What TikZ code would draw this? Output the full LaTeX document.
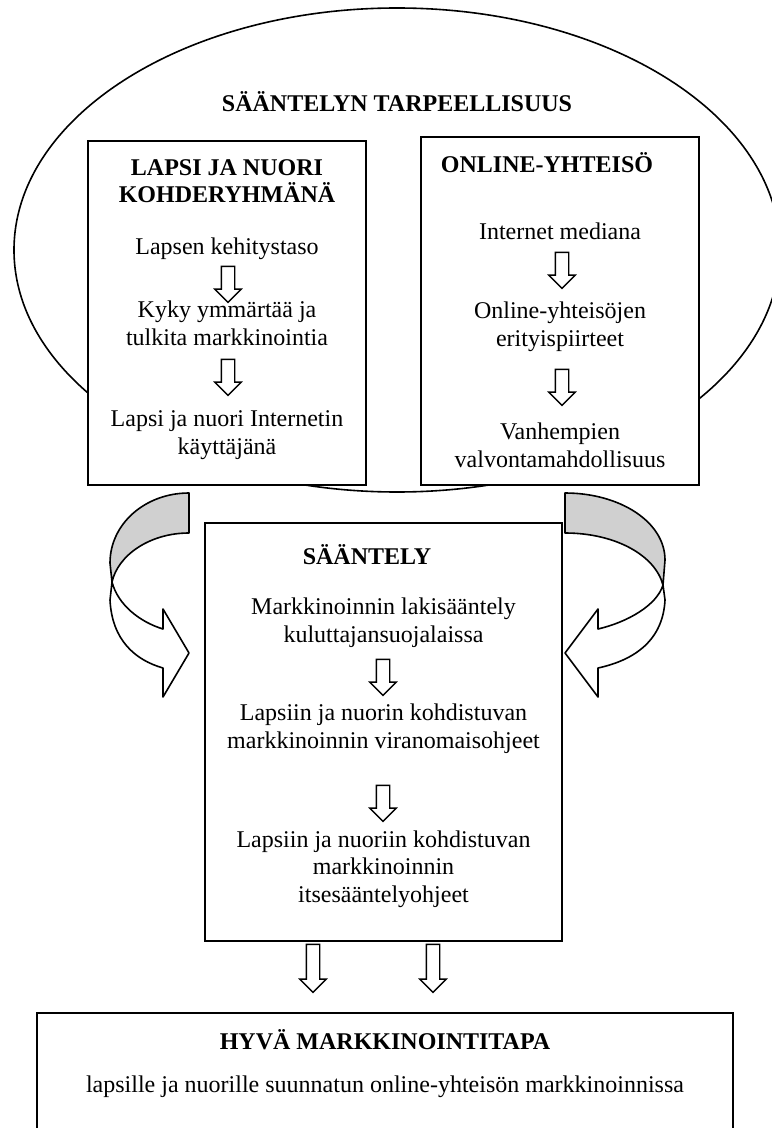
\documentclass[tikz,border=0pt]{standalone}
\usepackage{fontspec}
\setmainfont{Liberation Serif}
\usetikzlibrary{shapes.arrows,positioning}
\definecolor{bandgray}{RGB}{208,208,208}

\begin{document}
\begin{tikzpicture}[x=0.5pt, y=-0.5pt,
    box/.style={draw, line width=0.8pt, fill=white, inner sep=0pt},
    txt/.style={align=center, inner sep=0pt, font=\fontsize{12}{13.8}\selectfont},
    head/.style={txt, font=\fontsize{12}{13.8}\selectfont\bfseries},
    downarrow/.style={single arrow, draw, fill=white, line width=0.7pt, rotate=-90,
        inner xsep=0pt, inner ysep=3pt, single arrow head extend=3.25pt, minimum height=18pt},
    band/.style={draw, line width=0.8pt, line join=round}]
    % Frame
    \useasboundingbox (0,0) rectangle (771,1128);

    % Need for regulation
    \draw[line width=0.8pt] (397,250) ellipse [x radius=383, y radius=242];
    \node[head] (tarve) at (397,102) {SÄÄNTELYN TARPEELLISUUS};

    % Child as target group
    \node[box, minimum width=139pt, minimum height=172pt] (lapsi) at (227,313) {};
    \node[head] (lapsiotsikko) at (227,181) {LAPSI JA NUORI\\KOHDERYHMÄNÄ};
    \node[txt] (kehitys) at (227,249) {Lapsen kehitystaso};
    \node[downarrow] (la1) at (228,281) {};
    \node[txt] (kyky) at (227,323) {Kyky ymmärtää ja\\tulkita markkinointia};
    \node[downarrow] (la2) at (228,374) {};
    \node[txt] (kayttaja) at (227,435) {Lapsi ja nuori Internetin\\käyttäjänä};

    % Online community
    \node[box, minimum width=139pt, minimum height=174pt] (online) at (560,311) {};
    \node[head] (onlineotsikko) at (547,163) {ONLINE-YHTEISÖ};
    \node[txt] (media) at (560,231) {Internet mediana};
    \node[downarrow] (oa1) at (562,267) {};
    \node[txt] (piirteet) at (560,327) {Online-yhteisöjen\\erityispiirteet};
    \node[downarrow] (oa2) at (562,384) {};
    \node[txt] (valvonta) at (560,445) {Vanhempien\\valvontamahdollisuus};

    % Regulation
    \node[box, minimum width=178.5pt, minimum height=209pt] (saantely) at (383.5,732) {};
    \node[head] (saantelyotsikko) at (367,555) {SÄÄNTELY};
    \node[txt] (laki) at (383.5,623) {Markkinoinnin lakisääntely\\kuluttajansuojalaissa};
    \node[downarrow] (sa1) at (383,674) {};
    \node[txt] (viranomainen) at (383.5,729) {Lapsiin ja nuorin kohdistuvan\\markkinoinnin viranomaisohjeet};
    \node[downarrow] (sa2) at (383,800) {};
    \node[txt] (itse) at (383.5,869) {Lapsiin ja nuoriin kohdistuvan\\markkinoinnin\\itsesääntelyohjeet};

    % Good practice
    \node[box, minimum width=348pt, minimum height=68.5pt] (tapa) at (385,1081.5) {};
    \node[head] (tapaotsikko) at (385,1040) {HYVÄ MARKKINOINTITAPA};
    \node[txt] (tapateksti) at (385,1087) {lapsille ja nuorille suunnatun online-yhteisön markkinoinnissa};
    \node[downarrow, minimum height=24pt] (ta1) at (313,965) {};
    \node[downarrow, minimum height=24pt] (ta2) at (433,965) {};

    % Turn arrows
    \filldraw[band, fill=bandgray] (189,493) -- (189,533) .. controls (150,533) and (118,555) .. (112,582)
        -- (110,563) .. controls (110,524) and (145,493) .. (189,493) -- cycle;
    \filldraw[band, fill=white] (112,582) -- (110,600) .. controls (112,640) and (135,660) .. (163,668)
        -- (163,697) -- (189,653) -- (163,609) -- (163,629) .. controls (140,622) and (118,605) .. (112,582) -- cycle;
    \filldraw[band, fill=bandgray] (565,493) -- (565,533) .. controls (615,533) and (655,555) .. (663,585)
        -- (665,560) .. controls (665,522) and (620,493) .. (565,493) -- cycle;
    \filldraw[band, fill=white] (663,585) -- (665,600) .. controls (663,640) and (635,660) .. (598,668)
        -- (598,697) -- (565,653) -- (598,609) -- (598,629) .. controls (628,622) and (657,605) .. (663,585) -- cycle;
\end{tikzpicture}
\end{document}
